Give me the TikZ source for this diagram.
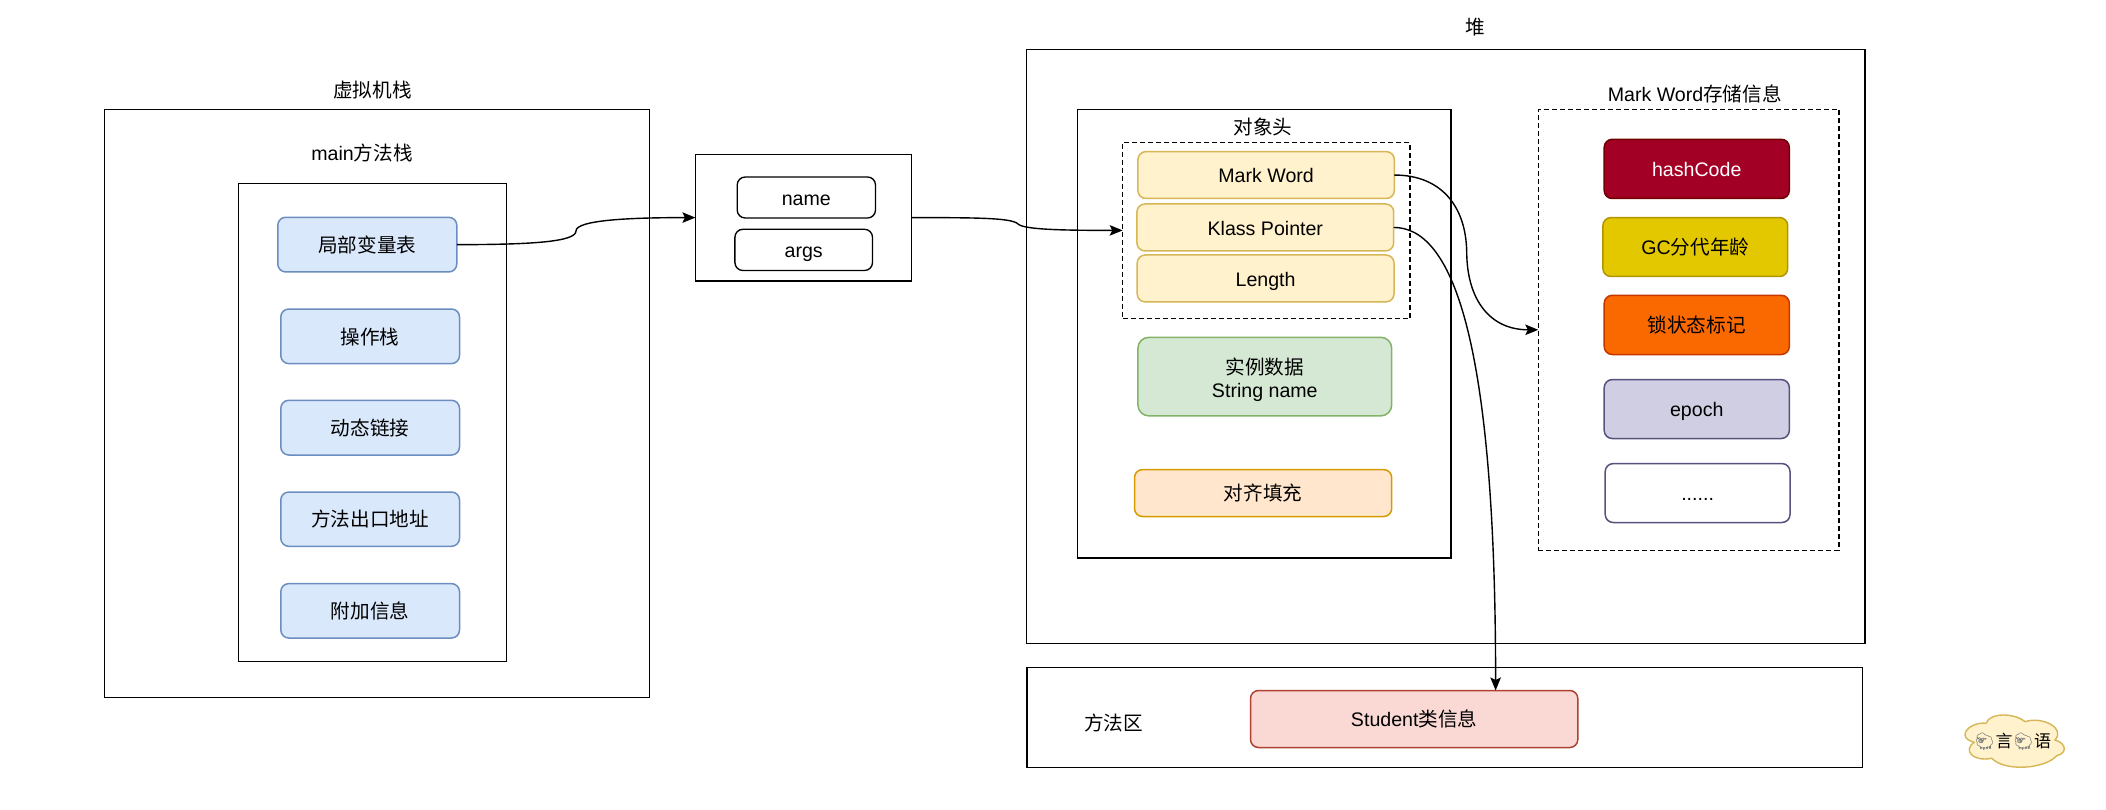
\documentclass[tikz,border=0pt]{standalone}
\usepackage{fontspec}
\setmainfont{Liberation Sans}
\newfontfamily\cjk{Noto Sans CJK SC}
\newfontfamily\emojifont{Noto Emoji}
\usetikzlibrary{arrows.meta}
\definecolor{bluefill}{HTML}{DAE8FC}\definecolor{bluedraw}{HTML}{6C8EBF}
\definecolor{yelfill}{HTML}{FFF2CC}\definecolor{yeldraw}{HTML}{D6B656}
\definecolor{grnfill}{HTML}{D5E8D4}\definecolor{grndraw}{HTML}{82B366}
\definecolor{orgfill}{HTML}{FFE6CC}\definecolor{orgdraw}{HTML}{D79B00}
\definecolor{redfill}{HTML}{FAD9D5}\definecolor{reddraw}{HTML}{AE4132}
\definecolor{crimfill}{HTML}{A20025}\definecolor{crimdraw}{HTML}{6F0000}
\definecolor{goldfill}{HTML}{E3C800}\definecolor{golddraw}{HTML}{B09500}
\definecolor{fire}{HTML}{FA6800}\definecolor{firedraw}{HTML}{C73500}
\definecolor{purfill}{HTML}{D0CEE2}\definecolor{purdraw}{HTML}{56517E}
\tikzset{
  every node/.style={inner sep=0pt,outer sep=0pt,font=\fontsize{19.6}{23}\selectfont,text height=15.6pt,text depth=0pt},
  frame/.style={draw=black,line width=1.35pt,rectangle},
  dashbox/.style={draw=black,line width=1.3pt,rectangle,dash pattern=on 4.8pt off 3.2pt},
  pill/.style={rectangle,rounded corners=8pt,line width=1.5pt},
  plainpill/.style={pill,draw=black,line width=1.35pt},
  bluepill/.style={pill,fill=bluefill,draw=bluedraw},
  yelpill/.style={pill,fill=yelfill,draw=yeldraw},
  grnpill/.style={pill,fill=grnfill,draw=grndraw,rounded corners=11pt,align=center,text height=,text depth=},
  orgpill/.style={pill,fill=orgfill,draw=orgdraw},
  redpill/.style={pill,fill=redfill,draw=reddraw},
  crimpill/.style={pill,fill=crimfill,draw=crimdraw,text=white},
  goldpill/.style={pill,fill=goldfill,draw=golddraw},
  firepill/.style={pill,fill=fire,draw=firedraw},
  purpill/.style={pill,fill=purfill,draw=purdraw},
  dotpill/.style={pill,fill=white,draw=purdraw},
  link/.style={draw=black,line width=1.4pt,-{Stealth[length=13pt,width=10.5pt,inset=2.5pt]}},
  logocloud/.style={fill=yelfill,draw=yeldraw,line width=1.4pt},
}
\newcommand\pxbox[7]{\node[#2,minimum width={#5-#3},minimum height={#6-#4}] (#1) at ({(#3+#5)/2},{(#4+#6)/2}) {#7};}
\begin{document}
\begin{tikzpicture}[x=1pt,y=-1pt]
\path[use as bounding box] (0,0) rectangle (2106,810);
% virtual machine stack
\pxbox{vm}{frame}{104.6}{109.6}{649.2}{697.5}{}
\pxbox{mainstack}{frame}{238.7}{183.3}{506.2}{661.5}{}
\node (vmlabel) at (372.4,90) {\cjk 虚拟机栈};
\node (mainlabel) at (362,153) {main{\cjk 方法栈}};
\pxbox{lv}{bluepill}{277.8}{217.3}{456.8}{272}{\cjk 局部变量表}
\pxbox{opstack}{bluepill}{280.8}{309}{459.5}{363.6}{\cjk 操作栈}
\pxbox{dynlink}{bluepill}{280.8}{400.3}{459.5}{455}{\cjk 动态链接}
\pxbox{retaddr}{bluepill}{280.8}{492}{459.5}{546.3}{\cjk 方法出口地址}
\pxbox{extra}{bluepill}{280.8}{583.6}{459.5}{638}{\cjk 附加信息}
% reference frame
\pxbox{refs}{frame}{695.4}{154.3}{911.5}{280.9}{}
\pxbox{namebox}{plainpill}{737.2}{177}{875.5}{218}{name}
\pxbox{argsbox}{plainpill}{734.9}{229.3}{872.5}{270.5}{args}
% heap
\node (heaplabel) at (1475,27) {\cjk 堆};
\pxbox{heap}{frame}{1026.3}{49.3}{1865}{643.5}{}
\pxbox{object}{frame}{1077.2}{109.6}{1451}{558}{}
\node (hdrlabel) at (1263,127) {\cjk 对象头};
\pxbox{hdr}{dashbox}{1122.7}{142.5}{1410}{318.3}{}
\pxbox{mark}{yelpill}{1137.9}{151.6}{1394.3}{198.5}{Mark Word}
\pxbox{klass}{yelpill}{1136.9}{204}{1393.7}{250.9}{Klass Pointer}
\pxbox{length}{yelpill}{1137.2}{255}{1394}{301.9}{Length}
\pxbox{inst}{grnpill}{1137.9}{337.3}{1391.7}{415.9}{{\rule{0pt}{22pt}\cjk 实例数据}\\String name}
\pxbox{pad}{orgpill}{1134.5}{469.6}{1391.7}{516.5}{\cjk 对齐填充}
% mark word contents
\node (mwlabel) at (1694.7,94) {Mark Word{\cjk 存储信息}};
\pxbox{mw}{dashbox}{1538.3}{109.3}{1839}{550.3}{}
\pxbox{hash}{crimpill}{1604.2}{139.3}{1789.3}{198.5}{hashCode}
\pxbox{gc}{goldpill}{1602.9}{217.6}{1787.7}{276.5}{GC{\cjk 分代年龄}}
\pxbox{lock}{firepill}{1604.2}{295.3}{1789.3}{354.5}{\cjk 锁状态标记}
\pxbox{epoch}{purpill}{1604.2}{379.6}{1789.3}{438.5}{epoch}
\pxbox{more}{dotpill}{1605.2}{463.6}{1790}{522.5}{......}
% method area
\pxbox{method}{frame}{1027}{667.5}{1862.5}{767.7}{}
\node (methodlabel) at (1113.5,723) {\cjk 方法区};
\pxbox{student}{redpill}{1250.5}{690.5}{1577.8}{747.5}{Student{\cjk 类信息}}
\coordinate (studentin) at (1495.6,690.5);
% connectors
\draw[link] (lv.east) .. controls (530,244.6) and (576,242) .. (576,231) .. controls (576,220) and (630,217.6) .. (refs.west);
\draw[link] (refs.east) .. controls (980,217.6) and (1012,218) .. (1018,224) .. controls (1024,229.5) and (1060,230.4) .. (hdr.west);
\draw[link] (mark.east) .. controls (1440,175) and (1466,205) .. (1466.7,252) .. controls (1467,300) and (1490,329.8) .. (mw.west);
\draw[link] (klass.east) .. controls (1450,227.4) and (1495.6,330) .. (studentin);
% logo
\path[logocloud] (1965,735) .. controls (1965,727) and (1978,722) .. (1986,723.3)
  .. controls (1990,712) and (2015,713) .. (2025,721.7)
  .. controls (2042,716) and (2066,728) .. (2055,740)
  .. controls (2066,743) and (2068,753) .. (2056.7,755.7)
  .. controls (2045,769) and (2005,772) .. (1991.7,758.3)
  .. controls (1972,762) and (1963,750) .. (1974,742.3)
  .. controls (1970,741) and (1965,739) .. cycle;
\node[font=\fontsize{17}{20}\selectfont] (logo) at (2012.5,739.5) {{\emojifont\textcolor{gray}{🐑}}{\cjk 言}{\emojifont\textcolor{gray}{🐑}}{\cjk 语}};
\end{tikzpicture}
\end{document}
